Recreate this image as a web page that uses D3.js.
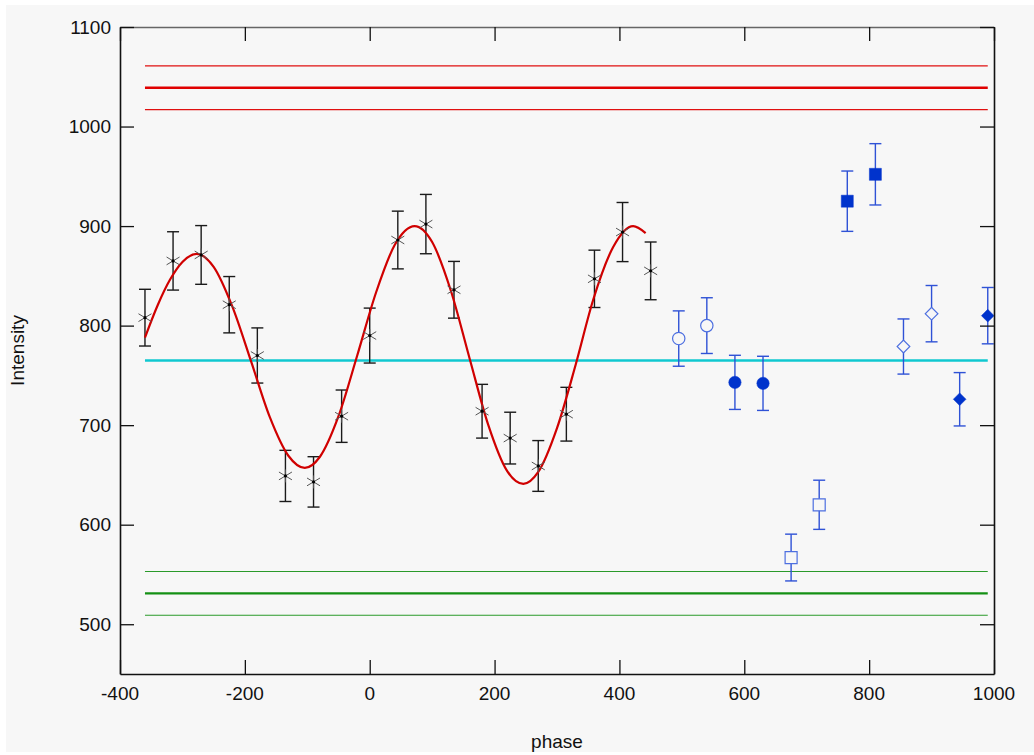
<!DOCTYPE html>
<html lang="en">
<head>
    <meta charset="UTF-8">
    <title>Intensity vs phase</title>
    <script src="https://d3js.org/d3.v7.min.js"></script>
    <style>
        body { margin: 0; background: #ffffff; font-family: 'Liberation Sans', Arial, sans-serif; }
        svg { display: block; }
        .tick-label { font-size: 19px; fill: #111; }
        .axis-title { font-size: 19px; fill: #111; }
    </style>
</head>
<body>
<svg id="chart" width="1034" height="755"></svg>
<script>
    // --- data ---
    const blackPhase = [-360, -315, -270, -225, -180, -135, -90, -45, 0, 45, 90, 135, 180, 225, 270, 315, 360, 405, 450];
    const blackIntensity = [808, 865, 871, 821, 770, 649, 643, 709, 790, 886, 902, 836, 714, 687, 659, 711, 847, 894, 855];
    const blackError = [28.5, 29.3, 29.5, 28.3, 27.7, 25.7, 25.3, 26.3, 27.6, 29, 29.8, 28.5, 27, 26, 25.5, 27, 28.8, 29.7, 29];

    const openCirclePhase = [495, 540];
    const openCircleIntensity = [787, 800];
    const openCircleError = [27.8, 28];
    const filledCirclePhase = [585, 630];
    const filledCircleIntensity = [743, 742];
    const filledCircleError = [27.2, 27.2];
    const openSquarePhase = [675, 720];
    const openSquareIntensity = [567, 620];
    const openSquareError = [23.5, 24.7];
    const filledSquarePhase = [765, 810];
    const filledSquareIntensity = [925, 952];
    const filledSquareError = [30.3, 30.8];
    const openDiamondPhase = [855, 900];
    const openDiamondIntensity = [779, 812];
    const openDiamondError = [27.7, 28.3];
    const filledDiamondPhase = [945, 990];
    const filledDiamondIntensity = [726, 810];
    const filledDiamondError = [26.8, 28.3];

    // fitted curve
    const fitPhase = [-360, -340, -320, -300, -277, -250, -220, -190, -160, -130, -104, -80, -50, -20, 10, 40, 72, 100, 130, 160, 190, 220, 246, 270, 300, 330, 358, 390, 422, 442];
    const fitIntensity = [788, 820, 846, 864, 872, 859, 819, 764, 708, 669, 657, 668, 709, 770, 833, 881, 900, 884, 835, 767, 700, 654, 641, 653, 697, 761, 826, 879, 900, 893];

    // horizontal reference levels
    const levelSpan = [-360, 990];
    const redLevels = [1061, 1039, 1017];
    const cyanLevel = 765;
    const greenLevels = [553, 531, 509];

    const xTicks = [-400, -200, 0, 200, 400, 600, 800, 1000];
    const yTicks = [500, 600, 700, 800, 900, 1000, 1100];

    // --- drawing ---
    const svg = d3.select("#chart");
    const plot = {left: 120, right: 994, top: 27, bottom: 674};

    const x = d3.scaleLinear().domain([-400, 1000]).range([plot.left, plot.right]);
    const y = d3.scaleLinear().domain([450, 1100]).range([plot.bottom, plot.top]);

    svg.append("rect").attr("x", 6).attr("y", 5).attr("width", 1028).attr("height", 747).attr("fill", "#f7f7f7");

    // reference lines
    function hline(v, color, w) {
        svg.append("line")
            .attr("x1", x(levelSpan[0])).attr("x2", x(levelSpan[1]))
            .attr("y1", y(v)).attr("y2", y(v))
            .attr("stroke", color).attr("stroke-width", w);
    }
    hline(redLevels[0], "#e01010", 1.2);
    hline(redLevels[1], "#e00000", 2.4);
    hline(redLevels[2], "#e01010", 1.2);
    hline(greenLevels[0], "#2a9a2a", 1.2);
    hline(greenLevels[1], "#149014", 2.4);
    hline(greenLevels[2], "#2a9a2a", 1.2);
    hline(cyanLevel, "#10c8d0", 2.4);

    // error bars
    function errorBars(px, py, pe, color) {
        const g = svg.append("g").attr("stroke", color).attr("stroke-width", 1.4).attr("fill", "none");
        px.forEach((p, i) => {
            const cx = x(p), top = y(py[i] + pe[i]), bot = y(py[i] - pe[i]);
            g.append("line").attr("x1", cx).attr("x2", cx).attr("y1", top).attr("y2", bot);
            g.append("line").attr("x1", cx - 6).attr("x2", cx + 6).attr("y1", top).attr("y2", top);
            g.append("line").attr("x1", cx - 6).attr("x2", cx + 6).attr("y1", bot).attr("y2", bot);
        });
    }

    errorBars(blackPhase, blackIntensity, blackError, "#1a1a1a");
    const blueBar = "#2f52d6";
    errorBars(openCirclePhase, openCircleIntensity, openCircleError, blueBar);
    errorBars(filledCirclePhase, filledCircleIntensity, filledCircleError, blueBar);
    errorBars(openSquarePhase, openSquareIntensity, openSquareError, blueBar);
    errorBars(filledSquarePhase, filledSquareIntensity, filledSquareError, blueBar);
    errorBars(openDiamondPhase, openDiamondIntensity, openDiamondError, blueBar);
    errorBars(filledDiamondPhase, filledDiamondIntensity, filledDiamondError, blueBar);

    // fit curve
    const fitLine = d3.line().x(d => x(d[0])).y(d => y(d[1])).curve(d3.curveMonotoneX);
    svg.append("path")
        .datum(fitPhase.map((p, i) => [p, fitIntensity[i]]))
        .attr("fill", "none").attr("stroke", "#d00000").attr("stroke-width", 2.2)
        .attr("d", fitLine);

    // asterisk markers
    const star = svg.append("g");
    blackPhase.forEach((p, i) => {
        const cx = x(p), cy = y(blackIntensity[i]), r = 6.5;
        const g = star.append("g").attr("stroke", "#555").attr("stroke-width", 1);
        g.append("line").attr("x1", cx - r).attr("x2", cx + r).attr("y1", cy - r * 0.6).attr("y2", cy + r * 0.6);
        g.append("line").attr("x1", cx - r).attr("x2", cx + r).attr("y1", cy + r * 0.6).attr("y2", cy - r * 0.6);
        g.append("line").attr("x1", cx).attr("x2", cx).attr("y1", cy - r).attr("y2", cy + r);
        star.append("circle").attr("cx", cx).attr("cy", cy).attr("r", 1.6).attr("fill", "#000");
    });

    // blue markers
    const fillBlue = "#0033cc", strokeBlue = "#4d6fe0";
    function markers(px, py, type, filled) {
        const sym = d3.symbol().type(type).size(type === d3.symbolCircle ? 120 : 144);
        svg.append("g").selectAll("path").data(px).join("path")
            .attr("d", sym)
            .attr("transform", (p, i) => `translate(${x(p)},${y(py[i])})`)
            .attr("fill", filled ? fillBlue : "#f7f7f7")
            .attr("stroke", filled ? fillBlue : strokeBlue)
            .attr("stroke-width", filled ? 0.5 : 1.2);
    }
    markers(openCirclePhase, openCircleIntensity, d3.symbolCircle, false);
    markers(filledCirclePhase, filledCircleIntensity, d3.symbolCircle, true);
    markers(openSquarePhase, openSquareIntensity, d3.symbolSquare, false);
    markers(filledSquarePhase, filledSquareIntensity, d3.symbolSquare, true);

    // diamonds are squares rotated 45 degrees
    function diamonds(px, py, filled) {
        svg.append("g").selectAll("path").data(px).join("path")
            .attr("d", d3.symbol().type(d3.symbolSquare).size(80))
            .attr("transform", (p, i) => `translate(${x(p)},${y(py[i])}) rotate(45)`)
            .attr("fill", filled ? fillBlue : "#f7f7f7")
            .attr("stroke", filled ? fillBlue : strokeBlue)
            .attr("stroke-width", filled ? 0.5 : 1.2);
    }
    diamonds(openDiamondPhase, openDiamondIntensity, false);
    diamonds(filledDiamondPhase, filledDiamondIntensity, true);

    // frame with inward ticks on all four sides
    const tickLen = 14;
    const axisBottom = d3.axisBottom(x).tickValues(xTicks).tickSize(-tickLen).tickSizeOuter(0).tickFormat("");
    const axisTop = d3.axisTop(x).tickValues(xTicks).tickSize(-tickLen).tickSizeOuter(0).tickFormat("");
    const axisLeft = d3.axisLeft(y).tickValues(yTicks).tickSize(-tickLen).tickSizeOuter(0).tickFormat("");
    const axisRight = d3.axisRight(y).tickValues(yTicks).tickSize(-tickLen).tickSizeOuter(0).tickFormat("");

    const frame = [
        svg.append("g").attr("transform", `translate(0,${plot.bottom})`).call(axisBottom),
        svg.append("g").attr("transform", `translate(0,${plot.top})`).call(axisTop),
        svg.append("g").attr("transform", `translate(${plot.left},0)`).call(axisLeft),
        svg.append("g").attr("transform", `translate(${plot.right},0)`).call(axisRight)
    ];
    frame.forEach(g => {
        g.selectAll(".domain").attr("stroke", "#111").attr("stroke-width", 1.6);
        g.selectAll(".tick line").attr("stroke", "#111").attr("stroke-width", 1.3);
    });
    frame[1].select(".domain").attr("stroke", "#666");

    // tick labels
    svg.append("g").selectAll("text").data(xTicks).join("text")
        .attr("class", "tick-label")
        .attr("x", d => x(d)).attr("y", 700)
        .attr("text-anchor", "middle")
        .text(d => d);
    svg.append("g").selectAll("text").data(yTicks).join("text")
        .attr("class", "tick-label")
        .attr("x", plot.left - 9).attr("y", d => y(d))
        .attr("dy", "0.35em")
        .attr("text-anchor", "end")
        .text(d => d);

    // axis titles
    svg.append("text").attr("class", "axis-title")
        .attr("x", (plot.left + plot.right) / 2).attr("y", 748)
        .attr("text-anchor", "middle").text("phase");
    svg.append("text").attr("class", "axis-title")
        .attr("transform", `translate(24,${(plot.top + plot.bottom) / 2}) rotate(-90)`)
        .attr("text-anchor", "middle").text("Intensity");
</script>
</body>
</html>
